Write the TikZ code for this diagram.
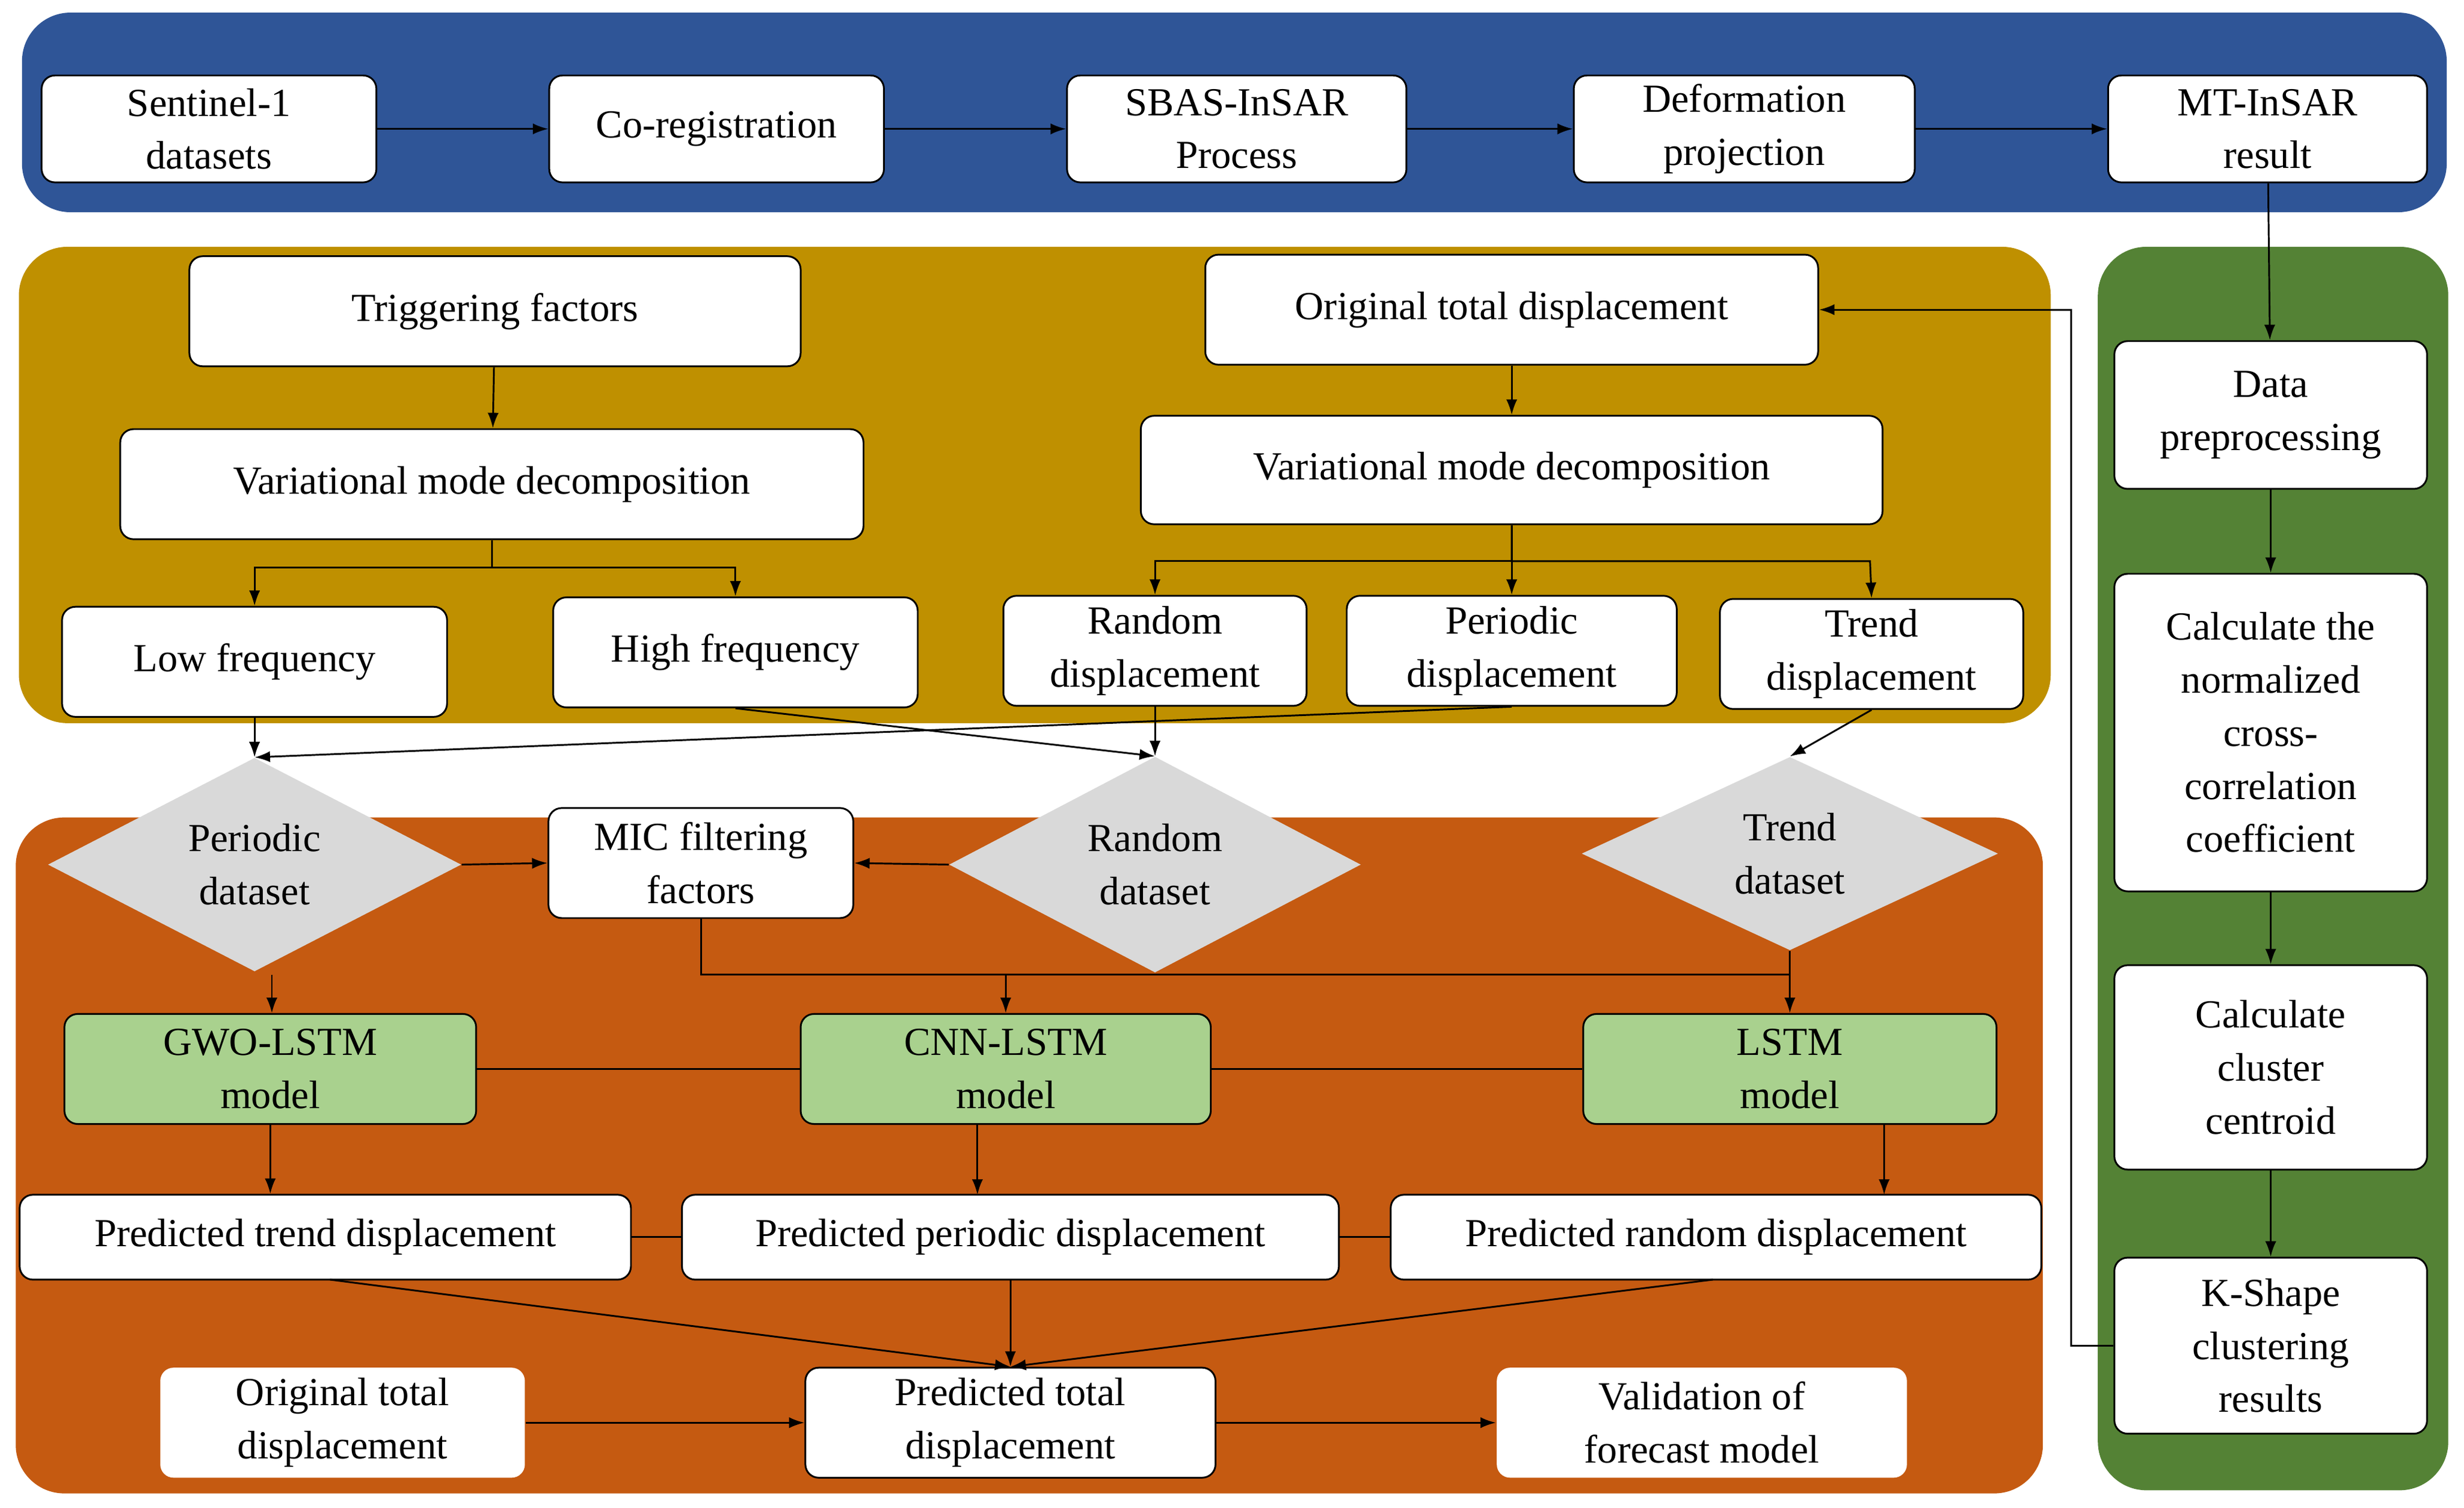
\documentclass[tikz,border=0pt]{standalone}
\usepackage{fontspec}
\setmainfont{Liberation Serif}
\usetikzlibrary{positioning}
\usetikzlibrary{shapes.geometric}
\usetikzlibrary{arrows.meta}
\definecolor{bandblue}{HTML}{2F5597}
\definecolor{bandgold}{HTML}{BF9000}
\definecolor{bandgreen}{HTML}{548235}
\definecolor{bandorange}{HTML}{C55A11}
\definecolor{modelgreen}{HTML}{A9D18E}
\definecolor{setgrey}{HTML}{D9D9D9}

\begin{document}
\begin{tikzpicture}[x=0.025cm, y=-0.025cm,
    font=\fontsize{18}{24}\selectfont,
    box/.style 2 args={draw, thick, rounded corners=6pt, fill=white, align=center,
      inner sep=0pt, minimum width=#1*0.025cm, minimum height=#2*0.025cm},
    plain/.style 2 args={box={#1}{#2}, draw=none},
    model/.style 2 args={box={#1}{#2}, fill=modelgreen},
    dataset/.style 2 args={diamond, fill=setgrey, align=center, inner sep=0pt,
      minimum width=#1*0.025cm, minimum height=#2*0.025cm},
    band/.style={rounded corners=22pt, draw=none},
    arr/.style={-{Latex[length=7pt,width=5pt]}, thick},
    ln/.style={thick}]
  \useasboundingbox (0,0) rectangle (1568,959);

  % Background bands
  \fill[band, bandblue] (14,8) rectangle (1557,135);
  \fill[band, bandgold] (12,157) rectangle (1305,460);
  \fill[band, bandgreen] (1335,157) rectangle (1558,948);
  \fill[band, bandorange] (10,520) rectangle (1300,950);

  % MT-InSAR chain
  \node[box={213}{68}] (s1) at (133,82) {Sentinel-1\\datasets};
  \node[box={213}{68}] (coreg) at (456,82) {Co-registration};
  \node[box={216}{68}] (sbas) at (787,82) {SBAS-InSAR\\Process};
  \node[box={217}{68}] (proj) at (1110,82) {Deformation\\projection};
  \node[box={203}{68}] (mt) at (1443,82) {MT-InSAR\\result};

  % Clustering column
  \node[box={199}{94}] (prep) at (1445,264) {Data\\preprocessing};
  \node[box={199}{202}] (ncc) at (1445,466) {Calculate the\\normalized\\cross-\\correlation\\coefficient};
  \node[box={199}{130}] (cent) at (1445,679) {Calculate\\cluster\\centroid};
  \node[box={199}{112}] (kshape) at (1445,856) {K-Shape\\clustering\\results};

  % Decomposition
  \node[box={389}{70}] (trig) at (315,198) {Triggering factors};
  \node[box={473}{70}] (vmdl) at (313,308) {Variational mode decomposition};
  \node[box={245}{70}] (low) at (162,421) {Low frequency};
  \node[box={232}{70}] (high) at (468,415) {High frequency};
  \node[box={390}{70}] (orig) at (962,197) {Original total displacement};
  \node[box={472}{69}] (vmdr) at (962,299) {Variational mode decomposition};
  \node[box={193}{70}] (rand) at (735,414) {Random\\displacement};
  \node[box={210}{70}] (peri) at (962,414) {Periodic\\displacement};
  \node[box={193}{70}] (trend) at (1191,416) {Trend\\displacement};

  % Datasets and models
  \node[dataset={263}{124}] (pset) at (162,550) {Periodic\\dataset};
  \node[dataset={262}{124}] (rset) at (735,550) {Random\\dataset};
  \node[dataset={265}{123}] (tset) at (1139,543) {Trend\\dataset};
  \node[box={194}{70}] (mic) at (446,549) {MIC filtering\\factors};
  \node[model={262}{70}] (gwo) at (172,680) {GWO-LSTM\\model};
  \node[model={261}{70}] (cnn) at (640,680) {CNN-LSTM\\model};
  \node[model={263}{70}] (lstm) at (1139,680) {LSTM\\model};
  \node[box={389}{54}] (ptrend) at (207,787) {Predicted trend displacement};
  \node[box={418}{54}] (pperi) at (643,787) {Predicted periodic displacement};
  \node[box={414}{54}] (prand) at (1092,787) {Predicted random displacement};
  \node[plain={232}{70}] (origb) at (218,905) {Original total\\displacement};
  \node[box={261}{70}] (ptotal) at (643,905) {Predicted total\\displacement};
  \node[plain={261}{70}] (valid) at (1083,905) {Validation of\\forecast model};

  % Connect the nodes
  \draw[arr] (s1) -- (coreg);
  \draw[arr] (coreg) -- (sbas);
  \draw[arr] (sbas) -- (proj);
  \draw[arr] (proj) -- (mt);
  \draw[arr] (mt) -- (prep);
  \draw[arr] (prep) -- (ncc);
  \draw[arr] (ncc) -- (cent);
  \draw[arr] (cent) -- (kshape);
  \draw[arr] (kshape.west) -| (1318,197) -- (orig.east);
  \draw[arr] (trig) -- (vmdl);
  \draw[arr] (vmdl.south) |- (162,361) -- (low.north);
  \draw[arr] (vmdl.south) |- (468,361) -- (high.north);
  \draw[arr] (orig) -- (vmdr);
  \draw[arr] (vmdr.south) |- (735,357) -- (rand.north);
  \draw[arr] (vmdr.south) -- (peri.north);
  \draw[arr] (vmdr.south) |- (1190,357) -- (trend.north);
  \draw[arr] (low.south) -- (pset.north);
  \draw[arr] (high.south) -- (rset.north);
  \draw[arr] (rand.south) -- (rset.north);
  \draw[arr] (peri.south) -- (pset.north);
  \draw[arr] (trend.south) -- (tset.north);
  \draw[arr] (pset.east) -- (mic.west);
  \draw[arr] (rset.west) -- (mic.east);
  \draw[ln] (mic.south) |- (1139,620);
  \draw[ln] (tset.south) -- (1139,620);
  \draw[arr] (173,620) -- (gwo.north -| 173,0);
  \draw[arr] (640,620) -- (cnn.north);
  \draw[arr] (1139,620) -- (lstm.north);
  \draw[ln] (gwo) -- (cnn);
  \draw[ln] (cnn) -- (lstm);
  \draw[arr] (gwo.south) -- (ptrend.north -| gwo.south);
  \draw[arr] (622,715) -- (622,760);
  \draw[arr] (1199,715) -- (1199,760);
  \draw[ln] (ptrend) -- (pperi);
  \draw[ln] (pperi) -- (prand);
  \draw[arr] (210,814) -- (ptotal.north);
  \draw[arr] (pperi.south) -- (ptotal.north);
  \draw[arr] (1090,814) -- (ptotal.north);
  \draw[arr] (origb) -- (ptotal);
  \draw[arr] (ptotal) -- (valid);
\end{tikzpicture}
\end{document}
